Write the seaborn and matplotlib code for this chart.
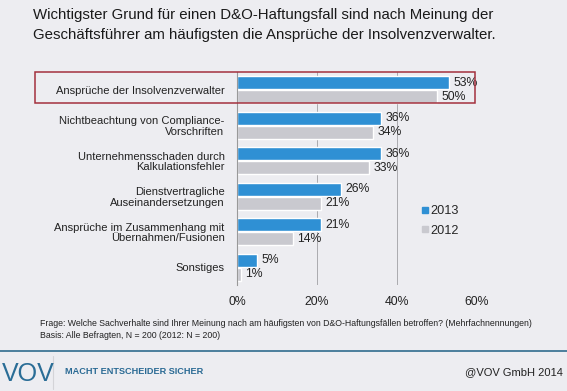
import pandas as pd
import matplotlib.pyplot as plt
import matplotlib.transforms as mtransforms
from matplotlib.patches import Rectangle
from matplotlib.lines import Line2D
import seaborn as sns

# Data
categories = ['Ansprüche der Insolvenzverwalter',
              'Nichtbeachtung von Compliance-\nVorschriften',
              'Unternehmensschaden durch\nKalkulationsfehler',
              'Dienstvertragliche\nAuseinandersetzungen',
              'Ansprüche im Zusammenhang mit\nÜbernahmen/Fusionen',
              'Sonstiges']
values_2013 = [53, 36, 36, 26, 21, 5]
values_2012 = [50, 34, 33, 21, 14, 1]
years = ['2013', '2012']
x_ticks = [0, 20, 40, 60]

bg = '#ededf1'
blue = '#2f90d4'
grey = '#c9c9cf'

df = pd.DataFrame({
    'Kategorie': categories * 2,
    'Jahr': ['2013'] * len(categories) + ['2012'] * len(categories),
    'Wert': values_2013 + values_2012,
})

sns.set_style('white')
plt.rcParams['font.family'] = ['Liberation Sans', 'DejaVu Sans']

W, H = 567, 391
fig = plt.figure(figsize=(W / 100, H / 100), dpi=100, facecolor=bg)
ax = fig.add_axes([237 / W, 1 - 285 / H, 240 / W, 213 / H], facecolor=bg)

sns.barplot(data=df, y='Kategorie', x='Wert', hue='Jahr', hue_order=years,
            order=categories, palette=[blue, grey], orient='h', width=0.78,
            gap=0.06, saturation=1, ax=ax, legend=False)

for cont in ax.containers:
    ax.bar_label(cont, fmt='%g%%', padding=3, fontsize=8.8, color='#222222')

ax.set_xlim(0, 60)
ax.set_ylim(len(categories) - 0.5, -0.5)
ax.set_xticks(x_ticks)
ax.set_xticklabels([f'{t}%' for t in x_ticks], fontsize=8.8, color='#222222')
ax.tick_params(axis='x', length=0, pad=8)
ax.tick_params(axis='y', length=0, pad=9, labelsize=8, labelcolor='#222222')
for lbl in ax.get_yticklabels():
    lbl.set_linespacing(1.05)
ax.set_yticks([i + 0.5 for i in range(len(categories) - 1)], minor=True)
ax.tick_params(axis='y', which='minor', length=3, color='#999999', width=0.8)
ax.set_xlabel('')
ax.set_ylabel('')
ax.grid(axis='x', color='#aaaaae', linewidth=0.7)
ax.set_axisbelow(True)
for s in ['top', 'right', 'bottom']:
    ax.spines[s].set_visible(False)
ax.spines['left'].set_color('#999999')
ax.spines['left'].set_linewidth(0.8)

# legend
handles = [Line2D([], [], marker='s', linestyle='', color=c, markersize=5) for c in [blue, grey]]
ax.legend(handles, years, frameon=False, fontsize=9.2, loc='center left',
          bbox_to_anchor=(413 / W, 1 - 221 / H), bbox_transform=fig.transFigure,
          handletextpad=0.05, labelspacing=0.55, borderpad=0, handlelength=0.8)

# highlight box around first row
trans = mtransforms.blended_transform_factory(fig.transFigure, ax.transData)
fig.add_artist(Rectangle((35 / W, -0.5), 440 / W, 0.88, transform=trans,
                         fill=False, edgecolor='#a3303e', linewidth=1.1))

# title
fig.text(33 / W, 1 - 8 / H,
         'Wichtigster Grund für einen D&O-Haftungsfall sind nach Meinung der\n'
         'Geschäftsführer am häufigsten die Ansprüche der Insolvenzverwalter.',
         ha='left', va='top', fontsize=10.8, color='#1a1a1a', linespacing=1.5)

# footnotes
fig.text(40 / W, 1 - 323 / H,
         'Frage: Welche Sachverhalte sind Ihrer Meinung nach am häufigsten von '
         'D&O-Haftungsfällen betroffen? (Mehrfachnennungen)',
         ha='left', va='center', fontsize=6.3, color='#222222')
fig.text(40 / W, 1 - 336 / H, 'Basis: Alle Befragten, N = 200 (2012: N = 200)',
         ha='left', va='center', fontsize=6.3, color='#222222')

# footer
fig.add_artist(Line2D([0, 1], [1 - 351 / H, 1 - 351 / H], transform=fig.transFigure,
                      color='#4b7f9c', linewidth=1.4))
fig.add_artist(Line2D([53 / W, 53 / W], [1 - 356 / H, 1 - 389 / H], transform=fig.transFigure,
                      color='#d4d4d8', linewidth=0.8))
fig.text(2 / W, 1 - 374 / H, 'VOV', ha='left', va='center', fontsize=18,
         color='#2a6d96')
fig.text(65 / W, 1 - 372 / H, 'MACHT ENTSCHEIDER SICHER', ha='left', va='center',
         fontsize=6.6, fontweight='bold', color='#2a6a94')
fig.text(563 / W, 1 - 372 / H, '@VOV GmbH 2014', ha='right', va='center',
         fontsize=8, color='#222222')

fig.savefig('out.png', dpi=100, facecolor=bg)
